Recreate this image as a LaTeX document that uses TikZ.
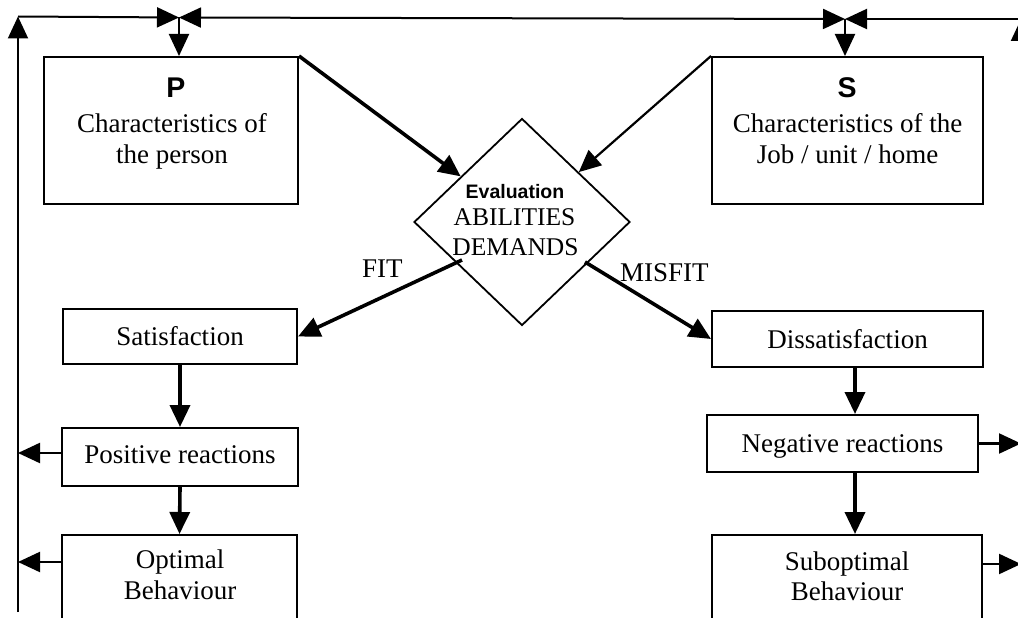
\documentclass[tikz,border=0pt]{standalone}
\usepackage{fontspec}
\setmainfont{Liberation Serif}
\setsansfont{Liberation Sans}
\usetikzlibrary{arrows.meta,shapes.geometric}
\tikzset{
  box/.style={draw, rectangle, line width=2pt, inner sep=0pt},
  diam/.style={draw, shape=diamond, line width=1.8pt, inner sep=0pt, minimum width=216pt, minimum height=207pt},
  txt/.style={font=\fontsize{27}{31}\selectfont, inner sep=0pt, anchor=base},
  mid/.style={font=\fontsize{25.5}{30}\selectfont, inner sep=0pt, anchor=base},
  evl/.style={font=\fontsize{19.5}{22}\selectfont\sffamily\bfseries, inner sep=0pt, anchor=base},
  ttl/.style={font=\fontsize{28.5}{30}\selectfont\sffamily\bfseries, inner sep=0pt, anchor=base},
  tip/.tip={Triangle[length=22pt,width=20pt]},
  conn/.style={line width=3.6pt, -tip},
  sconn/.style={line width=2.2pt, -tip},
  fb/.style={line width=2pt, -tip},
  fbb/.style={line width=2pt, tip-tip}
}
\begin{document}
\begin{tikzpicture}[x=1pt,y=-1pt]
\useasboundingbox (0,0) rectangle (1018,618);
\clip (0,0) rectangle (1018,618);

% boxes
\node[box, minimum width=254pt, minimum height=147pt] (P) at (171,130.5) {};
\node[box, minimum width=271pt, minimum height=147pt] (S) at (847.5,130.5) {};
\node[diam] (D) at (522,222) {};
\node[box, minimum width=234pt, minimum height=55pt] (Sat) at (180,336.5) {};
\node[box, minimum width=271pt, minimum height=56pt] (Dis) at (847.5,339) {};
\node[box, minimum width=236pt, minimum height=58pt] (Pos) at (180,457) {};
\node[box, minimum width=271pt, minimum height=57pt] (Neg) at (842.5,443.5) {};
\node[box, minimum width=235pt, minimum height=115pt] (Opt) at (179.5,592.5) {};
\node[box, minimum width=270pt, minimum height=115pt] (Sub) at (847,592.5) {};

% texts
\node[ttl] (Pt) at (176,98) {P};
\node[txt] (P1) at (172,132) {Characteristics of};
\node[txt] (P2) at (172,163) {the person};
\node[ttl] (St) at (847,97) {S};
\node[txt] (S1) at (847.5,132) {Characteristics of the};
\node[txt] (S2) at (847.5,163) {Job / unit / home};
\node[evl] (E1) at (515,198) {Evaluation};
\node[mid] (E2) at (514.5,225) {ABILITIES};
\node[mid] (E3) at (515.5,255) {DEMANDS};
\node[txt] (SatT) at (180,345.5) {Satisfaction};
\node[txt] (DisT) at (847.5,348) {Dissatisfaction};
\node[txt] (PosT) at (180,463) {Positive reactions};
\node[txt] (NegT) at (842.5,452) {Negative reactions};
\node[txt] (Opt1) at (180,568) {Optimal};
\node[txt] (Opt2) at (180,599) {Behaviour};
\node[txt] (Sub1) at (847,570) {Suboptimal};
\node[txt] (Sub2) at (847,600) {Behaviour};
\node[txt, anchor=base west] (fit) at (362,277) {FIT};
\node[txt, anchor=base west] (misfit) at (620,281) {MISFIT};

% coordinates
\coordinate (TL) at (18,16.5);
\coordinate (LB) at (18,612);
\coordinate (J1) at (179,17.5);
\coordinate (J2) at (845,19);
\coordinate (TR) at (1021,19);
\coordinate (RB) at (1021,640);
\coordinate (fitS) at (462,260);
\coordinate (misS) at (585,262);
\coordinate (rx) at (855,0);
\coordinate (pL) at ([yshift=4pt]Pos.west);
\coordinate (oL) at ([yshift=-28pt]Opt.north west);
\coordinate (sR) at ([yshift=-30pt]Sub.north east);

% feedback loop
\draw[fb] (LB) -- (TL);
\draw[fb] (TL) -- (J1);
\draw[fbb] (J1) -- (J2);
\draw[fb] (RB) -- (TR);
\draw[fb] (TR) -- (J2);
\draw[fb] (J1) -- (J1 |- P.north);
\draw[fb] (J2) -- (J2 |- S.north);

% main connectors
\draw[conn] (P.north east) -- (D);
\draw[sconn] (S.north west) -- (D);
\draw[conn] (fitS) -- (Sat.east);
\draw[conn] (misS) -- (Dis.west);
\draw[conn] (Sat.south) -- (Pos.north);
\draw[conn] (Pos.south) -- (Opt.north);
\draw[conn] (Dis.south -| rx) -- (Neg.north -| rx);
\draw[conn] (Neg.south -| rx) -- (Sub.north -| rx);

% side arrows
\draw[sconn] (pL) -- (pL -| TL);
\draw[sconn] (oL) -- (oL -| TL);
\draw[sconn] (Neg.east) -- (Neg.east -| TR);
\draw[sconn] (sR) -- (sR -| TR);
\end{tikzpicture}
\end{document}
